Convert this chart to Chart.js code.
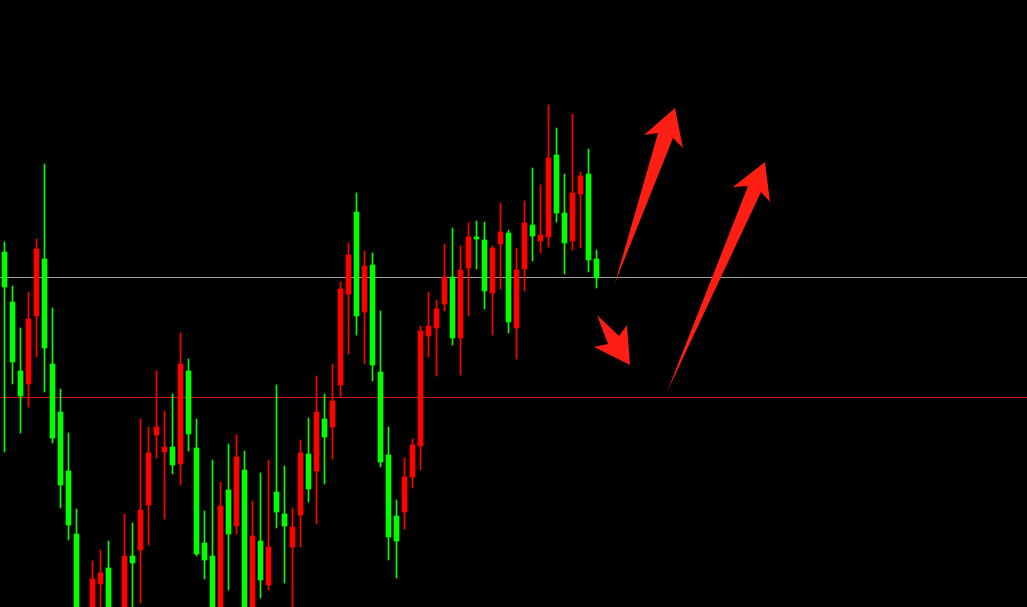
<!DOCTYPE html>
<html>
<head>
<meta charset="utf-8">
<script src="https://cdn.jsdelivr.net/npm/chart.js@4.4.0/dist/chart.umd.min.js"></script>
<style>
  html, body { margin: 0; padding: 0; background: #000; }
  canvas { display: block; }
</style>
</head>
<body>
<canvas id="velas" width="1027" height="607"></canvas>
<script>
// Datos OHLC de cada vela (precio)
const opens = [1835.5, 1830.5, 1823.6, 1822.3, 1829.1, 1834.8, 1824.3, 1819.5, 1813.6, 1807.3,
  1798.2, 1797.7, 1802.3, 1803.9, 1796.7, 1798.7, 1805.1, 1805.7, 1810.2, 1817.2,
  1815.5, 1816.0, 1814.3, 1823.6, 1815.9, 1806.4, 1805.1, 1797.2, 1811.7, 1808.1,
  1813.7, 1798.2, 1806.6, 1802.2, 1811.5, 1809.3, 1806.0, 1809.2, 1815.3, 1813.6,
  1818.8, 1818.0, 1822.2, 1831.3, 1839.5, 1829.5, 1834.2, 1823.5, 1815.2, 1809.1,
  1809.5, 1813.0, 1816.1, 1827.1, 1827.9, 1830.3, 1833.0, 1826.9, 1833.9, 1837.0,
  1836.7, 1831.4, 1836.3, 1837.4, 1827.9, 1833.8, 1838.2, 1836.6, 1837.0, 1845.2,
  1839.4, 1836.6, 1841.3, 1843.3, 1834.8];
const highs = [1836.5, 1832.1, 1827.9, 1831.5, 1836.8, 1844.3, 1829.9, 1821.8, 1817.4, 1809.8,
  1799.5, 1804.6, 1805.7, 1806.6, 1799.5, 1809.3, 1808.4, 1818.8, 1818.0, 1823.6,
  1819.6, 1821.3, 1827.4, 1824.8, 1818.8, 1809.6, 1814.7, 1812.5, 1816.3, 1817.2,
  1815.6, 1810.6, 1813.4, 1814.7, 1822.2, 1814.1, 1809.9, 1816.7, 1818.9, 1823.1,
  1821.3, 1824.3, 1832.5, 1836.4, 1841.4, 1835.6, 1835.4, 1829.6, 1818.0, 1810.7,
  1814.9, 1816.8, 1828.1, 1831.5, 1830.7, 1836.3, 1837.9, 1836.1, 1838.4, 1838.6,
  1838.5, 1836.1, 1840.4, 1837.7, 1835.9, 1840.6, 1843.9, 1842.2, 1850.2, 1847.9,
  1843.3, 1849.3, 1843.5, 1845.8, 1835.7];
const lows = [1815.5, 1822.3, 1817.4, 1820.0, 1825.0, 1821.5, 1816.4, 1809.9, 1806.7, 1795.7,
  1794.7, 1796.7, 1798.7, 1796.7, 1795.7, 1797.2, 1799.2, 1800.4, 1806.2, 1814.9,
  1808.8, 1813.3, 1812.2, 1815.6, 1805.1, 1802.8, 1795.7, 1795.7, 1801.7, 1807.3,
  1796.7, 1796.7, 1800.9, 1801.7, 1807.9, 1802.4, 1798.7, 1806.0, 1810.5, 1808.3,
  1812.3, 1814.8, 1821.0, 1825.3, 1827.2, 1824.3, 1822.6, 1814.0, 1804.7, 1802.9,
  1807.8, 1811.9, 1813.7, 1825.0, 1823.1, 1829.6, 1826.2, 1823.2, 1829.1, 1833.8,
  1829.8, 1827.2, 1831.8, 1827.4, 1824.8, 1831.6, 1834.6, 1835.4, 1836.0, 1838.5,
  1833.3, 1835.7, 1835.9, 1833.5, 1831.9];
const closes = [1832.0, 1824.5, 1821.1, 1828.8, 1835.8, 1825.9, 1816.9, 1812.2, 1808.2, 1797.2,
  1796.2, 1802.8, 1803.4, 1798.2, 1798.7, 1805.1, 1804.4, 1809.7, 1815.4, 1818.0,
  1816.0, 1814.2, 1824.3, 1817.3, 1805.3, 1804.7, 1797.2, 1810.1, 1807.3, 1815.0,
  1798.2, 1807.1, 1802.7, 1806.0, 1809.5, 1808.1, 1808.0, 1815.4, 1811.8, 1819.5,
  1817.0, 1820.6, 1831.8, 1835.2, 1829.1, 1834.1, 1824.2, 1814.5, 1807.0, 1806.6,
  1813.0, 1816.2, 1827.6, 1828.1, 1829.8, 1833.0, 1826.9, 1833.7, 1837.0, 1836.8,
  1831.6, 1835.9, 1837.5, 1828.5, 1833.7, 1838.4, 1837.1, 1837.2, 1844.9, 1839.4,
  1836.4, 1841.4, 1843.1, 1834.7, 1832.9];

// Lineas horizontales (precio)
const lineaGris = 1833.0;
const lineaRoja = 1821.0;

// Flechas: puntos [indice de vela, precio]
const flecha1 = [[76.31, 1832.4], [81.69, 1847.4], [79.94, 1847.2], [83.81, 1849.9], [84.81, 1845.9], [83.56, 1846.9]];
const flecha2 = [[74.06, 1829.2], [76.81, 1827.1], [77.81, 1828.2], [78.19, 1824.2], [73.69, 1826.0], [75.44, 1826.3]];
const flecha3 = [[82.81, 1821.5], [92.94, 1842.1], [91.06, 1842.0], [95.06, 1844.5], [95.69, 1840.5], [94.56, 1841.5]];

const VERDE = '#00ff00';
const ROJO = '#ff0000';

const colores = opens.map((o, i) => closes[i] < o ? VERDE : ROJO);

const mechas = lows.map((l, i) => ({ x: i, y: [l, highs[i]] }));
const cuerpos = opens.map((o, i) => ({ x: i, y: [o, closes[i]] }));

// Fondo, lineas y flechas
const dibujosExtra = {
    id: 'dibujosExtra',
    beforeDraw(chart) {
        const ctx = chart.ctx;
        ctx.save();
        ctx.fillStyle = '#000';
        ctx.fillRect(0, 0, chart.width, chart.height);
        ctx.restore();
    },
    beforeDatasetsDraw(chart) {
        const ctx = chart.ctx;
        const y = chart.scales.y;
        ctx.save();
        ctx.fillStyle = '#9ca1a8';
        ctx.fillRect(0, Math.round(y.getPixelForValue(lineaGris)), chart.width, 1);
        ctx.fillStyle = '#d41010';
        ctx.fillRect(0, Math.round(y.getPixelForValue(lineaRoja)), chart.width, 1);
        ctx.restore();
    },
    afterDatasetsDraw(chart) {
        const ctx = chart.ctx;
        const sx = chart.scales.x, sy = chart.scales.y;
        ctx.save();
        ctx.fillStyle = '#ff1e14';
        [flecha1, flecha2, flecha3].forEach(f => {
            ctx.beginPath();
            f.forEach((p, k) => {
                const px = sx.getPixelForValue(p[0]);
                const py = sy.getPixelForValue(p[1]);
                if (k === 0) ctx.moveTo(px, py); else ctx.lineTo(px, py);
            });
            ctx.closePath();
            ctx.fill();
        });
        ctx.restore();
    }
};

const ctx = document.getElementById('velas').getContext('2d');

const grafica = new Chart(ctx, {
    type: 'bar',
    data: {
        datasets: [
            {
                label: 'mechas',
                data: mechas,
                backgroundColor: colores,
                barThickness: 1,
                grouped: false,
                borderWidth: 0
            },
            {
                label: 'cuerpos',
                data: cuerpos,
                backgroundColor: colores,
                barThickness: 5,
                grouped: false,
                borderWidth: 0,
                minBarLength: 1
            }
        ]
    },
    options: {
        responsive: false,
        animation: false,
        devicePixelRatio: 1,
        layout: { padding: 0 },
        plugins: {
            legend: { display: false },
            tooltip: { enabled: false }
        },
        scales: {
            x: {
                type: 'linear',
                display: false,
                offset: false,
                grid: { offset: false },
                bounds: 'data',
                min: -0.5625,
                max: 127.8125
            },
            y: {
                type: 'linear',
                display: false,
                min: 1800.0,
                max: 1860.7
            }
        }
    },
    plugins: [dibujosExtra]
});
</script>
</body>
</html>
